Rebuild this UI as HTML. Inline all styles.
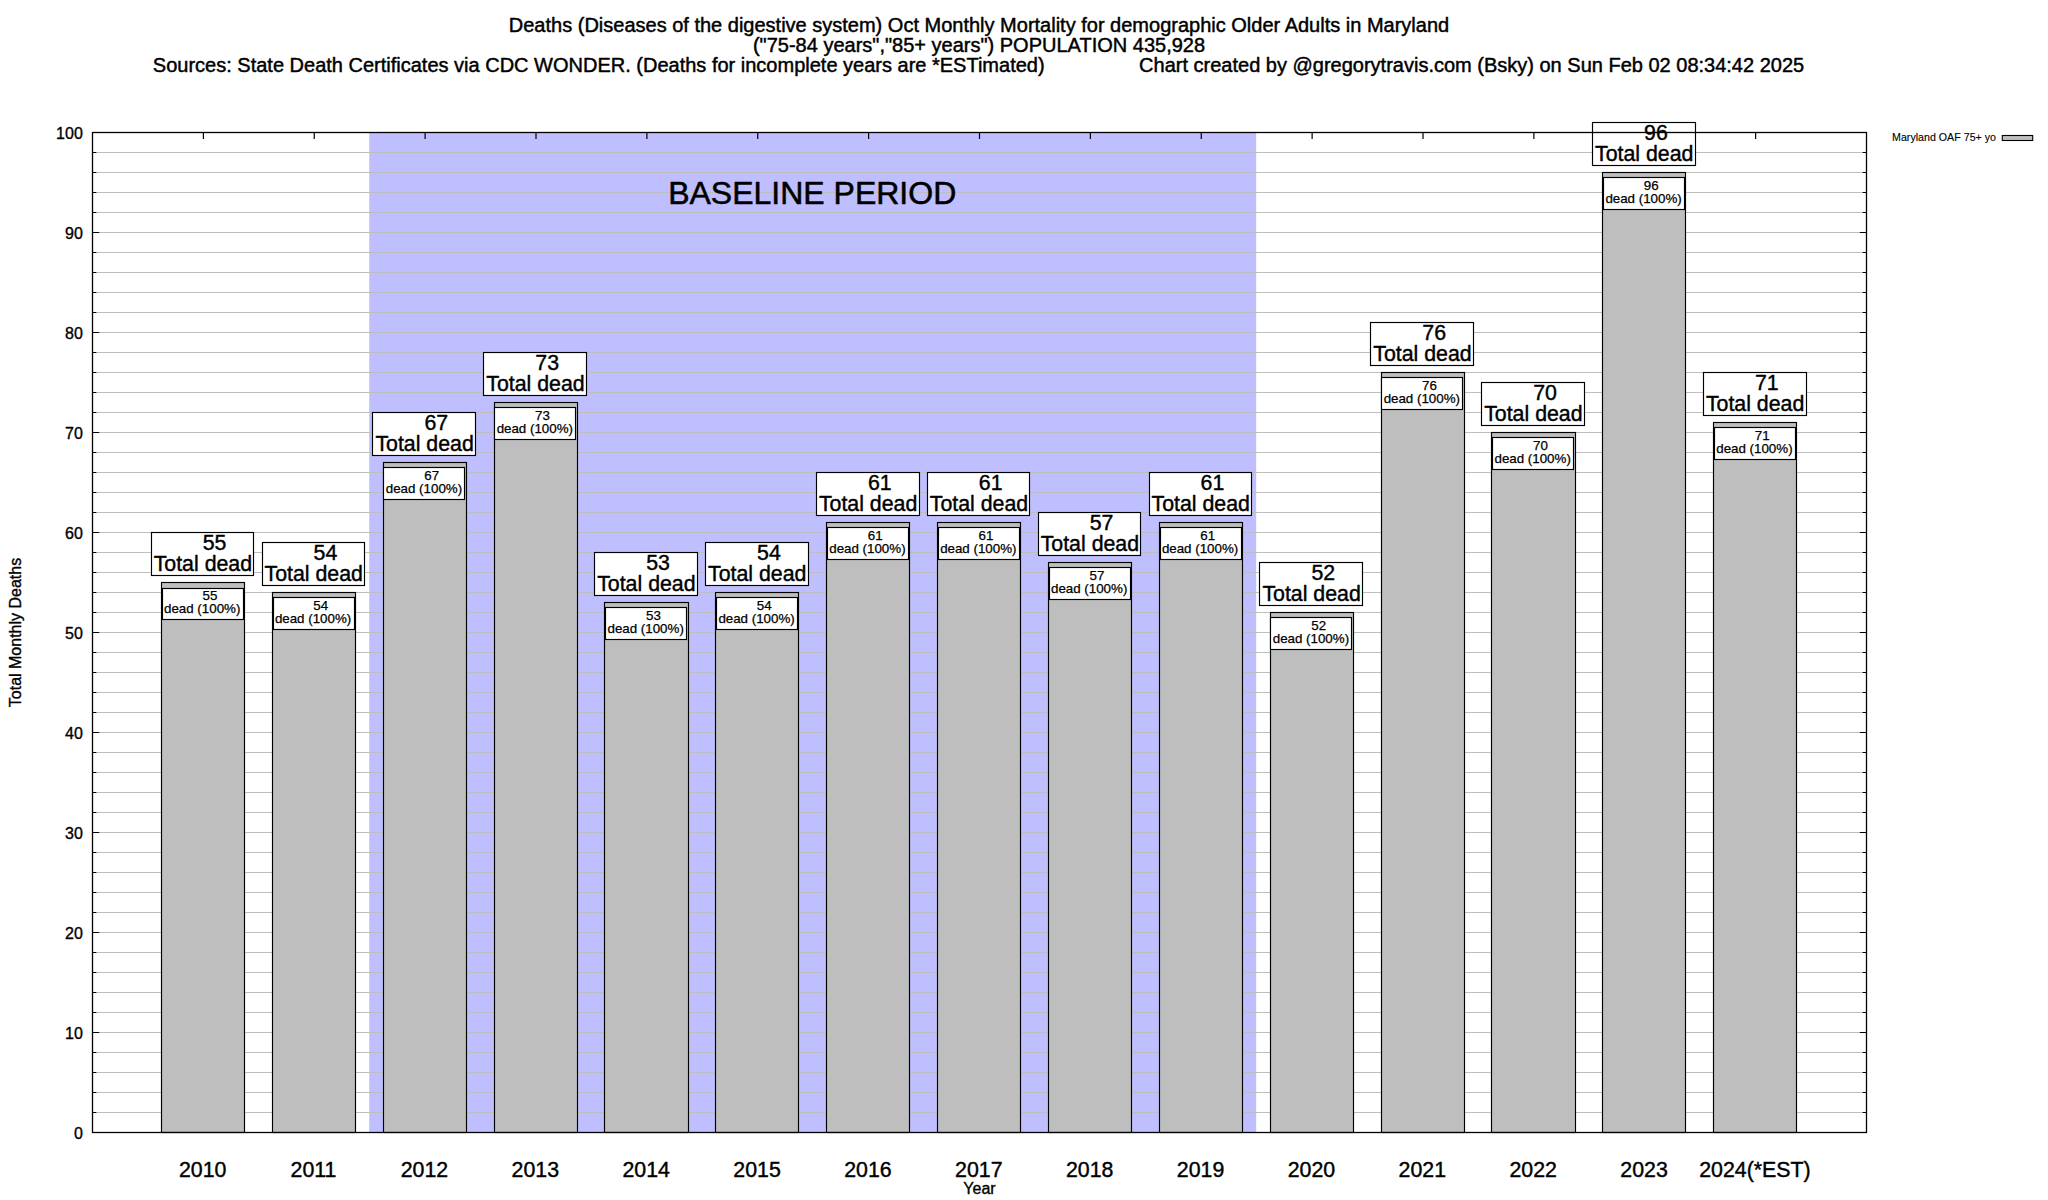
<!DOCTYPE html>
<html lang="en"><head><meta charset="utf-8"><title>Oct Monthly Mortality - Maryland</title>
<style>html,body{margin:0;padding:0;background:#fff;overflow:hidden}svg{display:block}text{font-family:"Liberation Sans",Arial,Helvetica,sans-serif;fill:#000;stroke:#000;stroke-width:0.35px;stroke-linejoin:round}.t{font-size:20px;stroke-width:.45px}.k{font-size:16px;stroke-width:.35px}.x{font-size:21.33px;stroke-width:.4px}.b{font-size:21.33px;stroke-width:.4px}.s{font-size:13.33px;stroke-width:.25px}.l{font-size:10.67px;stroke-width:.12px}.bp{font-size:32px;stroke-width:.55px}.m{text-anchor:middle}.e{text-anchor:end}</style></head><body>
<svg width="2048" height="1200" viewBox="0 0 2048 1200">
<rect x="0" y="0" width="2048" height="1200" fill="#fff"/>
<rect x="369.19" y="132.5" width="887.00" height="1000.0" fill="#bfbfff"/>
<path d="M92.5 1132.5H1866.5M92.5 1112.5H1866.5M92.5 1092.5H1866.5M92.5 1072.5H1866.5M92.5 1052.5H1866.5M92.5 1032.5H1866.5M92.5 1012.5H1866.5M92.5 992.5H1866.5M92.5 972.5H1866.5M92.5 952.5H1866.5M92.5 932.5H1866.5M92.5 912.5H1866.5M92.5 892.5H1866.5M92.5 872.5H1866.5M92.5 852.5H1866.5M92.5 832.5H1866.5M92.5 812.5H1866.5M92.5 792.5H1866.5M92.5 772.5H1866.5M92.5 752.5H1866.5M92.5 732.5H1866.5M92.5 712.5H1866.5M92.5 692.5H1866.5M92.5 672.5H1866.5M92.5 652.5H1866.5M92.5 632.5H1866.5M92.5 612.5H1866.5M92.5 592.5H1866.5M92.5 572.5H1866.5M92.5 552.5H1866.5M92.5 532.5H1866.5M92.5 512.5H1866.5M92.5 492.5H1866.5M92.5 472.5H1866.5M92.5 452.5H1866.5M92.5 432.5H1866.5M92.5 412.5H1866.5M92.5 392.5H1866.5M92.5 372.5H1866.5M92.5 352.5H1866.5M92.5 332.5H1866.5M92.5 312.5H1866.5M92.5 292.5H1866.5M92.5 272.5H1866.5M92.5 252.5H1866.5M92.5 232.5H1866.5M92.5 212.5H1866.5M92.5 192.5H1866.5M92.5 172.5H1866.5M92.5 152.5H1866.5M92.5 132.5H1866.5" stroke="#bebebe" stroke-width="1.1" fill="none"/>
<path d="M92.5 1132.5h6.7M1866.5 1132.5h-6.7M92.5 1112.5h3.8M1866.5 1112.5h-3.8M92.5 1092.5h3.8M1866.5 1092.5h-3.8M92.5 1072.5h3.8M1866.5 1072.5h-3.8M92.5 1052.5h3.8M1866.5 1052.5h-3.8M92.5 1032.5h6.7M1866.5 1032.5h-6.7M92.5 1012.5h3.8M1866.5 1012.5h-3.8M92.5 992.5h3.8M1866.5 992.5h-3.8M92.5 972.5h3.8M1866.5 972.5h-3.8M92.5 952.5h3.8M1866.5 952.5h-3.8M92.5 932.5h6.7M1866.5 932.5h-6.7M92.5 912.5h3.8M1866.5 912.5h-3.8M92.5 892.5h3.8M1866.5 892.5h-3.8M92.5 872.5h3.8M1866.5 872.5h-3.8M92.5 852.5h3.8M1866.5 852.5h-3.8M92.5 832.5h6.7M1866.5 832.5h-6.7M92.5 812.5h3.8M1866.5 812.5h-3.8M92.5 792.5h3.8M1866.5 792.5h-3.8M92.5 772.5h3.8M1866.5 772.5h-3.8M92.5 752.5h3.8M1866.5 752.5h-3.8M92.5 732.5h6.7M1866.5 732.5h-6.7M92.5 712.5h3.8M1866.5 712.5h-3.8M92.5 692.5h3.8M1866.5 692.5h-3.8M92.5 672.5h3.8M1866.5 672.5h-3.8M92.5 652.5h3.8M1866.5 652.5h-3.8M92.5 632.5h6.7M1866.5 632.5h-6.7M92.5 612.5h3.8M1866.5 612.5h-3.8M92.5 592.5h3.8M1866.5 592.5h-3.8M92.5 572.5h3.8M1866.5 572.5h-3.8M92.5 552.5h3.8M1866.5 552.5h-3.8M92.5 532.5h6.7M1866.5 532.5h-6.7M92.5 512.5h3.8M1866.5 512.5h-3.8M92.5 492.5h3.8M1866.5 492.5h-3.8M92.5 472.5h3.8M1866.5 472.5h-3.8M92.5 452.5h3.8M1866.5 452.5h-3.8M92.5 432.5h6.7M1866.5 432.5h-6.7M92.5 412.5h3.8M1866.5 412.5h-3.8M92.5 392.5h3.8M1866.5 392.5h-3.8M92.5 372.5h3.8M1866.5 372.5h-3.8M92.5 352.5h3.8M1866.5 352.5h-3.8M92.5 332.5h6.7M1866.5 332.5h-6.7M92.5 312.5h3.8M1866.5 312.5h-3.8M92.5 292.5h3.8M1866.5 292.5h-3.8M92.5 272.5h3.8M1866.5 272.5h-3.8M92.5 252.5h3.8M1866.5 252.5h-3.8M92.5 232.5h6.7M1866.5 232.5h-6.7M92.5 212.5h3.8M1866.5 212.5h-3.8M92.5 192.5h3.8M1866.5 192.5h-3.8M92.5 172.5h3.8M1866.5 172.5h-3.8M92.5 152.5h3.8M1866.5 152.5h-3.8M92.5 132.5h6.7M1866.5 132.5h-6.7M203.38 132.5v6.5M203.38 1132.5v-6.5M314.25 132.5v6.5M314.25 1132.5v-6.5M425.12 132.5v6.5M425.12 1132.5v-6.5M536.00 132.5v6.5M536.00 1132.5v-6.5M646.88 132.5v6.5M646.88 1132.5v-6.5M757.75 132.5v6.5M757.75 1132.5v-6.5M868.62 132.5v6.5M868.62 1132.5v-6.5M979.50 132.5v6.5M979.50 1132.5v-6.5M1090.38 132.5v6.5M1090.38 1132.5v-6.5M1201.25 132.5v6.5M1201.25 1132.5v-6.5M1312.12 132.5v6.5M1312.12 1132.5v-6.5M1423.00 132.5v6.5M1423.00 1132.5v-6.5M1533.88 132.5v6.5M1533.88 1132.5v-6.5M1644.75 132.5v6.5M1644.75 1132.5v-6.5M1755.62 132.5v6.5M1755.62 1132.5v-6.5" stroke="#000" stroke-width="1.2" fill="none"/>
<rect x="161.5" y="582.5" width="83.0" height="550" fill="#bebebe" stroke="#000" stroke-width="1.15"/>
<rect x="272.5" y="592.5" width="83.0" height="540" fill="#bebebe" stroke="#000" stroke-width="1.15"/>
<rect x="383.5" y="462.5" width="83.0" height="670" fill="#bebebe" stroke="#000" stroke-width="1.15"/>
<rect x="494.5" y="402.5" width="83.0" height="730" fill="#bebebe" stroke="#000" stroke-width="1.15"/>
<rect x="604.5" y="602.5" width="84.0" height="530" fill="#bebebe" stroke="#000" stroke-width="1.15"/>
<rect x="715.5" y="592.5" width="83.0" height="540" fill="#bebebe" stroke="#000" stroke-width="1.15"/>
<rect x="826.5" y="522.5" width="83.0" height="610" fill="#bebebe" stroke="#000" stroke-width="1.15"/>
<rect x="937.5" y="522.5" width="83.0" height="610" fill="#bebebe" stroke="#000" stroke-width="1.15"/>
<rect x="1048.5" y="562.5" width="83.0" height="570" fill="#bebebe" stroke="#000" stroke-width="1.15"/>
<rect x="1159.5" y="522.5" width="83.0" height="610" fill="#bebebe" stroke="#000" stroke-width="1.15"/>
<rect x="1270.5" y="612.5" width="83.0" height="520" fill="#bebebe" stroke="#000" stroke-width="1.15"/>
<rect x="1381.5" y="372.5" width="83.0" height="760" fill="#bebebe" stroke="#000" stroke-width="1.15"/>
<rect x="1491.5" y="432.5" width="84.0" height="700" fill="#bebebe" stroke="#000" stroke-width="1.15"/>
<rect x="1602.5" y="172.5" width="83.0" height="960" fill="#bebebe" stroke="#000" stroke-width="1.15"/>
<rect x="1713.5" y="422.5" width="83.0" height="710" fill="#bebebe" stroke="#000" stroke-width="1.15"/>
<rect x="162.5" y="588.5" width="81" height="31" fill="#fff" stroke="#000" stroke-width="1.15"/>
<text class="s" x="202.47" y="600.0">55</text>
<text class="s m" x="202.18" y="613.0">dead (100%)</text>
<rect x="273.5" y="597.5" width="81" height="32" fill="#fff" stroke="#000" stroke-width="1.15"/>
<text class="s" x="313.35" y="610.0">54</text>
<text class="s m" x="313.05" y="623.0">dead (100%)</text>
<rect x="383.5" y="467.5" width="81" height="32" fill="#fff" stroke="#000" stroke-width="1.15"/>
<text class="s" x="424.23" y="480.0">67</text>
<text class="s m" x="423.93" y="493.0">dead (100%)</text>
<rect x="494.5" y="407.5" width="81" height="32" fill="#fff" stroke="#000" stroke-width="1.15"/>
<text class="s" x="535.10" y="420.0">73</text>
<text class="s m" x="534.80" y="433.0">dead (100%)</text>
<rect x="605.5" y="607.5" width="81" height="32" fill="#fff" stroke="#000" stroke-width="1.15"/>
<text class="s" x="645.98" y="620.0">53</text>
<text class="s m" x="645.67" y="633.0">dead (100%)</text>
<rect x="716.5" y="597.5" width="81" height="32" fill="#fff" stroke="#000" stroke-width="1.15"/>
<text class="s" x="756.85" y="610.0">54</text>
<text class="s m" x="756.55" y="623.0">dead (100%)</text>
<rect x="827.5" y="527.5" width="81" height="32" fill="#fff" stroke="#000" stroke-width="1.15"/>
<text class="s" x="867.73" y="540.0">61</text>
<text class="s m" x="867.42" y="553.0">dead (100%)</text>
<rect x="938.5" y="527.5" width="81" height="32" fill="#fff" stroke="#000" stroke-width="1.15"/>
<text class="s" x="978.60" y="540.0">61</text>
<text class="s m" x="978.30" y="553.0">dead (100%)</text>
<rect x="1049.5" y="567.5" width="81" height="32" fill="#fff" stroke="#000" stroke-width="1.15"/>
<text class="s" x="1089.47" y="580.0">57</text>
<text class="s m" x="1089.17" y="593.0">dead (100%)</text>
<rect x="1160.5" y="527.5" width="81" height="32" fill="#fff" stroke="#000" stroke-width="1.15"/>
<text class="s" x="1200.35" y="540.0">61</text>
<text class="s m" x="1200.05" y="553.0">dead (100%)</text>
<rect x="1270.5" y="617.5" width="81" height="32" fill="#fff" stroke="#000" stroke-width="1.15"/>
<text class="s" x="1311.22" y="630.0">52</text>
<text class="s m" x="1310.92" y="643.0">dead (100%)</text>
<rect x="1381.5" y="377.5" width="81" height="32" fill="#fff" stroke="#000" stroke-width="1.15"/>
<text class="s" x="1422.10" y="390.0">76</text>
<text class="s m" x="1421.80" y="403.0">dead (100%)</text>
<rect x="1492.5" y="437.5" width="81" height="32" fill="#fff" stroke="#000" stroke-width="1.15"/>
<text class="s" x="1532.97" y="450.0">70</text>
<text class="s m" x="1532.67" y="463.0">dead (100%)</text>
<rect x="1603.5" y="177.5" width="81" height="32" fill="#fff" stroke="#000" stroke-width="1.15"/>
<text class="s" x="1643.85" y="190.0">96</text>
<text class="s m" x="1643.55" y="203.0">dead (100%)</text>
<rect x="1714.5" y="427.5" width="81" height="32" fill="#fff" stroke="#000" stroke-width="1.15"/>
<text class="s" x="1754.72" y="440.0">71</text>
<text class="s m" x="1754.42" y="453.0">dead (100%)</text>
<rect x="151.5" y="532.5" width="102.0" height="43" fill="#fff" stroke="#000" stroke-width="1.15"/>
<text class="b" x="202.68" y="550.1">55</text>
<text class="b m" x="202.88" y="571.0">Total dead</text>
<rect x="262.5" y="542.5" width="102.0" height="43" fill="#fff" stroke="#000" stroke-width="1.15"/>
<text class="b" x="313.55" y="560.1">54</text>
<text class="b m" x="313.75" y="581.0">Total dead</text>
<rect x="372.5" y="412.5" width="103.0" height="43" fill="#fff" stroke="#000" stroke-width="1.15"/>
<text class="b" x="424.43" y="430.1">67</text>
<text class="b m" x="424.62" y="451.0">Total dead</text>
<rect x="483.5" y="352.5" width="103.0" height="43" fill="#fff" stroke="#000" stroke-width="1.15"/>
<text class="b" x="535.30" y="370.1">73</text>
<text class="b m" x="535.50" y="391.0">Total dead</text>
<rect x="594.5" y="552.5" width="103.0" height="43" fill="#fff" stroke="#000" stroke-width="1.15"/>
<text class="b" x="646.17" y="570.1">53</text>
<text class="b m" x="646.38" y="591.0">Total dead</text>
<rect x="705.5" y="542.5" width="103.0" height="43" fill="#fff" stroke="#000" stroke-width="1.15"/>
<text class="b" x="757.05" y="560.1">54</text>
<text class="b m" x="757.25" y="581.0">Total dead</text>
<rect x="816.5" y="472.5" width="103.0" height="43" fill="#fff" stroke="#000" stroke-width="1.15"/>
<text class="b" x="867.92" y="490.1">61</text>
<text class="b m" x="868.12" y="511.0">Total dead</text>
<rect x="927.5" y="472.5" width="102.0" height="43" fill="#fff" stroke="#000" stroke-width="1.15"/>
<text class="b" x="978.80" y="490.1">61</text>
<text class="b m" x="979.00" y="511.0">Total dead</text>
<rect x="1038.5" y="512.5" width="102.0" height="43" fill="#fff" stroke="#000" stroke-width="1.15"/>
<text class="b" x="1089.67" y="530.1">57</text>
<text class="b m" x="1089.88" y="551.0">Total dead</text>
<rect x="1149.5" y="472.5" width="102.0" height="43" fill="#fff" stroke="#000" stroke-width="1.15"/>
<text class="b" x="1200.55" y="490.1">61</text>
<text class="b m" x="1200.75" y="511.0">Total dead</text>
<rect x="1259.5" y="562.5" width="103.0" height="43" fill="#fff" stroke="#000" stroke-width="1.15"/>
<text class="b" x="1311.42" y="580.1">52</text>
<text class="b m" x="1311.62" y="601.0">Total dead</text>
<rect x="1370.5" y="322.5" width="103.0" height="43" fill="#fff" stroke="#000" stroke-width="1.15"/>
<text class="b" x="1422.30" y="340.1">76</text>
<text class="b m" x="1422.50" y="361.0">Total dead</text>
<rect x="1481.5" y="382.5" width="103.0" height="43" fill="#fff" stroke="#000" stroke-width="1.15"/>
<text class="b" x="1533.17" y="400.1">70</text>
<text class="b m" x="1533.38" y="421.0">Total dead</text>
<rect x="1592.5" y="122.5" width="103.0" height="43" fill="#fff" stroke="#000" stroke-width="1.15"/>
<text class="b" x="1644.05" y="140.1">96</text>
<text class="b m" x="1644.25" y="161.0">Total dead</text>
<rect x="1703.5" y="372.5" width="103.0" height="43" fill="#fff" stroke="#000" stroke-width="1.15"/>
<text class="b" x="1754.92" y="390.1">71</text>
<text class="b m" x="1755.12" y="411.0">Total dead</text>
<text class="bp m" x="812.19" y="203.6">BASELINE PERIOD</text>
<rect x="92.5" y="132.5" width="1774.0" height="1000.0" fill="none" stroke="#000" stroke-width="1.3"/>
<text class="k e" x="82.8" y="1138.5">0</text>
<text class="k e" x="82.8" y="1038.5">10</text>
<text class="k e" x="82.8" y="938.5">20</text>
<text class="k e" x="82.8" y="838.5">30</text>
<text class="k e" x="82.8" y="738.5">40</text>
<text class="k e" x="82.8" y="638.5">50</text>
<text class="k e" x="82.8" y="538.5">60</text>
<text class="k e" x="82.8" y="438.5">70</text>
<text class="k e" x="82.8" y="338.5">80</text>
<text class="k e" x="82.8" y="238.5">90</text>
<text class="k e" x="82.8" y="138.5">100</text>
<text class="x m" x="202.68" y="1177">2010</text>
<text class="x m" x="313.55" y="1177">2011</text>
<text class="x m" x="424.43" y="1177">2012</text>
<text class="x m" x="535.30" y="1177">2013</text>
<text class="x m" x="646.17" y="1177">2014</text>
<text class="x m" x="757.05" y="1177">2015</text>
<text class="x m" x="867.92" y="1177">2016</text>
<text class="x m" x="978.80" y="1177">2017</text>
<text class="x m" x="1089.67" y="1177">2018</text>
<text class="x m" x="1200.55" y="1177">2019</text>
<text class="x m" x="1311.42" y="1177">2020</text>
<text class="x m" x="1422.30" y="1177">2021</text>
<text class="x m" x="1533.17" y="1177">2022</text>
<text class="x m" x="1644.05" y="1177">2023</text>
<text class="x m" x="1754.92" y="1177">2024(*EST)</text>
<text class="k m" x="979.5" y="1194">Year</text>
<text class="k m" transform="translate(21.2 632.5) rotate(-90)">Total Monthly Deaths</text>
<text class="t m" x="979" y="31.8">Deaths (Diseases of the digestive system) Oct Monthly Mortality for demographic Older Adults in Maryland</text>
<text class="t m" x="979" y="51.8">(&quot;75-84 years&quot;,&quot;85+ years&quot;) POPULATION 435,928</text>
<text class="t m" x="978.5" y="71.8" xml:space="preserve" style="white-space:pre">Sources: State Death Certificates via CDC WONDER. (Deaths for incomplete years are *ESTimated)                 Chart created by @gregorytravis.com (Bsky) on Sun Feb 02 08:34:42 2025</text>
<text class="l e" x="1996" y="141">Maryland OAF 75+ yo</text>
<rect x="2002.3" y="135.5" width="30.4" height="5" fill="#bebebe" stroke="#000" stroke-width="1.1"/>
</svg></body></html>
